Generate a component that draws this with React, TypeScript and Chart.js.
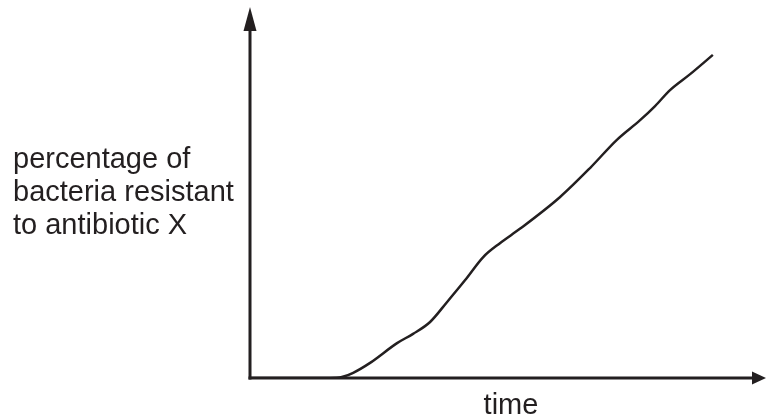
import React, { useEffect, useRef } from "react";
import { Chart, registerables } from "chart.js";

Chart.register(...registerables);

// time (0–100 units) and percentage resistant (0–100 units)
const timeValues = [0, 15.5, 17.8, 20.0, 23.2, 28.5, 31.6, 34.9, 38.2, 41.7, 45.2, 48.5, 52.3, 60.1, 65.9, 71.1, 75.6, 78.5, 81.4, 85.3, 89.7];
const resistantValues = [0, 0, 0.25, 1.4, 4.0, 9.4, 11.9, 15.1, 20.5, 26.4, 32.6, 36.4, 40.2, 48.8, 56.6, 64.2, 69.5, 73.3, 77.6, 81.9, 87.1];
const yAxisLabel = ["percentage of", "bacteria resistant", "to antibiotic X"];
const xAxisLabel = "time";

const INK = "#231f20";

const axesPlugin = {
  id: "arrowAxes",
  afterDraw(chart: any) {
    const { ctx, chartArea } = chart;
    const { left, right, top, bottom } = chartArea;
    ctx.save();
    ctx.strokeStyle = INK;
    ctx.fillStyle = INK;
    ctx.lineWidth = 3;
    // y axis
    ctx.beginPath();
    ctx.moveTo(left, bottom + 1.5);
    ctx.lineTo(left, top + 22);
    ctx.stroke();
    ctx.beginPath();
    ctx.moveTo(left, top);
    ctx.lineTo(left - 6.5, top + 24);
    ctx.lineTo(left + 6.5, top + 24);
    ctx.closePath();
    ctx.fill();
    // x axis
    ctx.beginPath();
    ctx.moveTo(left - 1.5, bottom);
    ctx.lineTo(right - 12, bottom);
    ctx.stroke();
    ctx.beginPath();
    ctx.moveTo(right, bottom);
    ctx.lineTo(right - 14, bottom - 6.5);
    ctx.lineTo(right - 14, bottom + 6.5);
    ctx.closePath();
    ctx.fill();
    // labels
    ctx.font = "29px 'Liberation Sans', Arial, sans-serif";
    ctx.textBaseline = "alphabetic";
    ctx.textAlign = "left";
    const baselines = [168, 201, 234];
    yAxisLabel.forEach((t, i) => ctx.fillText(t, 13, baselines[i]));
    ctx.textAlign = "center";
    ctx.fillText(xAxisLabel, 511, 414);
    ctx.restore();
  },
};

export default function App() {
  const ref = useRef<HTMLCanvasElement>(null);
  useEffect(() => {
    const chart = new Chart(ref.current!, {
      type: "line",
      data: {
        datasets: [
          {
            data: timeValues.map((x, i) => ({ x, y: resistantValues[i] })),
            borderColor: INK,
            borderWidth: 2.5,
            pointRadius: 0,
            cubicInterpolationMode: "monotone",
            fill: false,
          },
        ],
      },
      options: {
        responsive: false,
        animation: false,
        layout: { padding: { left: 250, right: 0, top: 7, bottom: 41 } },
        plugins: { legend: { display: false }, tooltip: { enabled: false } },
        scales: {
          x: { type: "linear", min: 0, max: 100, display: false },
          y: { type: "linear", min: 0, max: 100, display: false },
        },
      },
      plugins: [axesPlugin],
    });
    return () => chart.destroy();
  }, []);
  return (
    <div style={{ position: "fixed", left: 0, top: 0, width: 766, height: 419, background: "#fff" }}>
      <canvas ref={ref} width={766} height={419} />
    </div>
  );
}
